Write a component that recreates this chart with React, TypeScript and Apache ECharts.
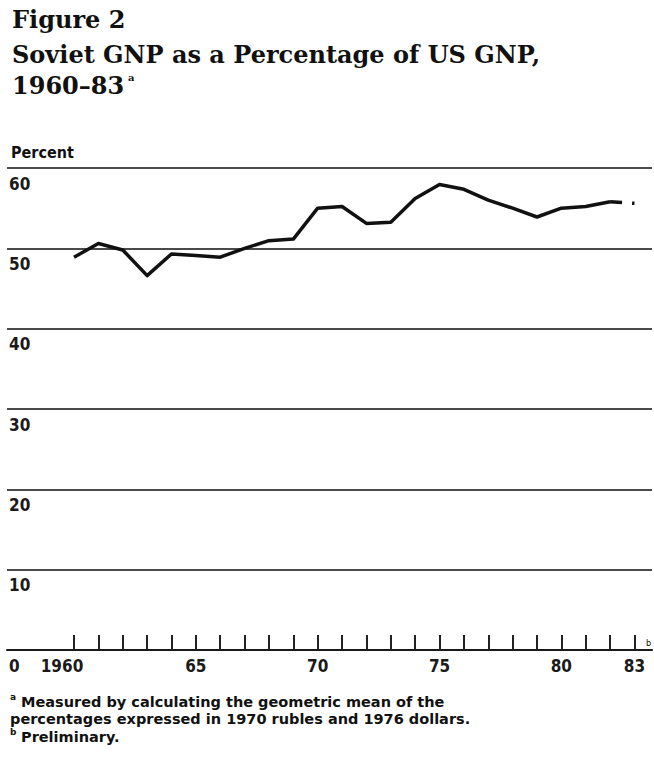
import React, { useEffect, useRef } from "react";
import * as echarts from "echarts";

// Solid (official) series, 1960-82
const years = [1960, 1961, 1962, 1963, 1964, 1965, 1966, 1967, 1968, 1969, 1970, 1971, 1972, 1973, 1974, 1975, 1976, 1977, 1978, 1979, 1980, 1981, 1982];
const gnpShare = [48.9, 50.6, 49.8, 46.6, 49.3, 49.1, 48.9, 50.0, 50.95, 51.15, 55.0, 55.2, 53.1, 53.25, 56.2, 57.95, 57.35, 56.0, 55.0, 53.9, 55.0, 55.2, 55.8];
// Preliminary (dashed) segment
const prelimYears = [1982, 1983];
const prelimShare = [55.8, 55.6];

const tickYears = [1960, 1961, 1962, 1963, 1964, 1965, 1966, 1967, 1968, 1969, 1970, 1971, 1972, 1973, 1974, 1975, 1976, 1977, 1978, 1979, 1980, 1981, 1982, 1983];
const labelYears = [1960, 1965, 1970, 1975, 1980, 1983];
const yMin = 0;
const yMax = 60;
const yStep = 10;

const titleLines = ["Figure 2", "Soviet GNP as a Percentage of US GNP,", "1960–83"];
const unitLabel = "Percent";
const footnotes = [
  "Measured by calculating the geometric mean of the",
  "percentages expressed in 1970 rubles and 1976 dollars.",
  "Preliminary.",
];

const SANS = "'DejaVu Sans Condensed', 'Liberation Sans Narrow', 'Open Sans', sans-serif";
const NOTE = "'DejaVu Sans', 'Open Sans', sans-serif";
const SERIF = "'DejaVu Serif', 'Liberation Serif', serif";

export default function App() {
  const ref = useRef<HTMLDivElement>(null);
  useEffect(() => {
    if (!ref.current) return;
    const chart = echarts.init(ref.current, undefined, { renderer: "svg" });
    const labelStyle = { fontFamily: SANS, fontSize: 17, fontWeight: "bold" as const, color: "#1a1a1a" };
    chart.setOption({
      animation: false,
      backgroundColor: "#fff",
      grid: { left: 7, right: 2, top: 168, bottom: 117, containLabel: false },
      xAxis: {
        type: "value",
        min: 1957.25,
        max: 1983.72,
        axisLine: { show: true, lineStyle: { color: "#1a1a1a", width: 2 } },
        axisTick: {
          show: true,
          inside: true,
          length: 15,
          customValues: tickYears,
          lineStyle: { color: "#222", width: 2 },
        },
        axisLabel: {
          show: true,
          customValues: labelYears,
          margin: 7,
          formatter: (v: number) => (v === 1960 ? "{l|1960}" : "{n|" + String(v).slice(2) + "}"),
          rich: {
            n: { ...labelStyle },
            l: { ...labelStyle, padding: [0, 24, 0, 0] },
          },
        },
        splitLine: { show: false },
      },
      yAxis: {
        type: "value",
        min: yMin,
        max: yMax,
        interval: yStep,
        axisLine: { show: false },
        axisTick: { show: false },
        axisLabel: {
          inside: true,
          margin: 2,
          verticalAlign: "top",
          padding: [7, 0, 0, 0],
          ...labelStyle,
        },
        splitLine: { show: true, lineStyle: { color: "#4a4a4a", width: 2 } },
      },
      graphic: [
        {
          type: "text",
          left: 12,
          top: 7,
          style: { text: titleLines[0], font: `bold 24px ${SERIF}`, fill: "#111" },
        },
        {
          type: "text",
          left: 12,
          top: 42,
          style: { text: titleLines[1], font: `bold 24px ${SERIF}`, fill: "#111" },
        },
        {
          type: "text",
          left: 12,
          top: 73,
          style: { text: titleLines[2], font: `bold 24px ${SERIF}`, fill: "#111" },
        },
        {
          type: "text",
          left: 128,
          top: 72,
          style: { text: "a", font: `bold 10px ${SERIF}`, fill: "#111" },
        },
        {
          type: "text",
          left: 11,
          top: 144,
          style: { text: unitLabel, font: `bold 16px ${SANS}`, fill: "#111" },
        },
        {
          type: "text",
          left: 646,
          top: 638,
          style: { text: "b", font: `9px ${SANS}`, fill: "#111" },
        },
        {
          type: "text",
          left: 10,
          top: 692,
          style: { text: "a", font: `bold 9px ${NOTE}`, fill: "#111" },
        },
        {
          type: "text",
          left: 21,
          top: 694,
          style: { text: footnotes[0], font: `bold 14.5px ${NOTE}`, fill: "#111" },
        },
        {
          type: "text",
          left: 10,
          top: 711,
          style: { text: footnotes[1], font: `bold 14.5px ${NOTE}`, fill: "#111" },
        },
        {
          type: "text",
          left: 10,
          top: 727,
          style: { text: "b", font: `bold 9px ${NOTE}`, fill: "#111" },
        },
        {
          type: "text",
          left: 21,
          top: 729,
          style: { text: footnotes[2], font: `bold 14.5px ${NOTE}`, fill: "#111" },
        },
      ],
      series: [
        {
          type: "line",
          data: years.map((y, i) => [y, gnpShare[i]]),
          symbol: "none",
          lineStyle: { color: "#111", width: 3.5, join: "round" },
          z: 5,
        },
        {
          type: "line",
          data: prelimYears.map((y, i) => [y, prelimShare[i]]),
          symbol: "none",
          lineStyle: { color: "#111", width: 3.5, type: [12, 10] },
          z: 5,
        },
      ],
    });
    return () => chart.dispose();
  }, []);
  return (
    <div
      ref={ref}
      style={{ position: "fixed", left: 0, top: 0, width: 654, height: 767, background: "#fff" }}
    />
  );
}
